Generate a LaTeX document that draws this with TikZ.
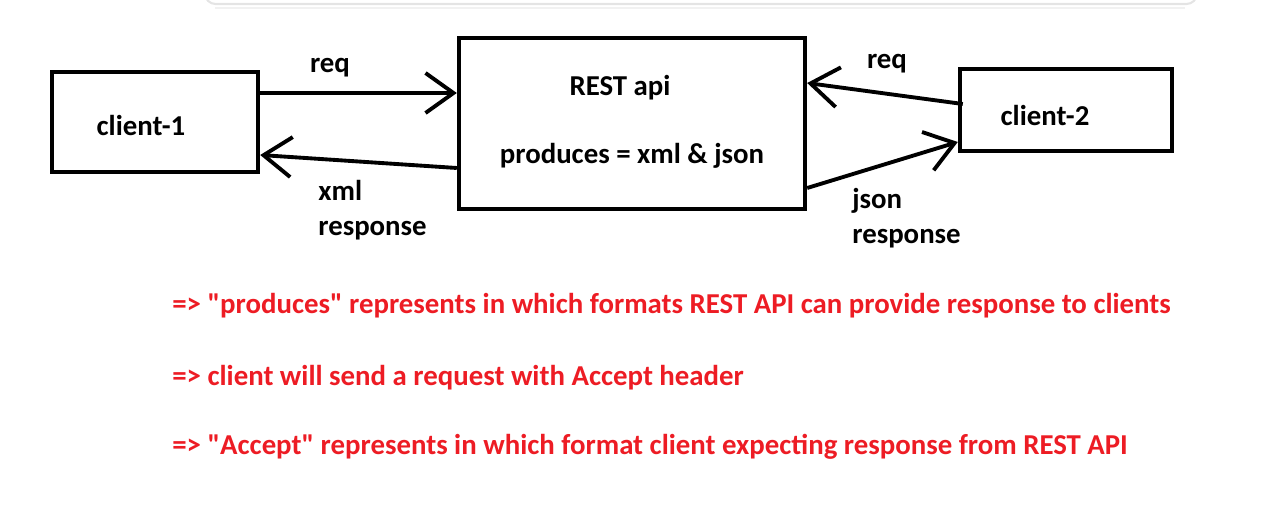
\documentclass[tikz,border=0pt]{standalone}
\usepackage{fontspec}
\setmainfont{Carlito}[Ligatures=TeXOff]
\usepackage{tikz}
\usetikzlibrary{positioning,arrows.meta,calc}
\definecolor{notered}{RGB}{237,28,36}
\definecolor{cardline}{RGB}{228,228,228}
\tikzset{
  box/.style={draw,line width=2.5pt,inner sep=0pt},
  lbl/.style={font=\bfseries\fontsize{16.4}{20}\selectfont,inner sep=0pt,align=left},
  note/.style={lbl,text=notered,anchor=west},
  ar/.style={-{Straight Barb[length=5.6mm,width=8mm,line width=2.2pt]},line width=2.2pt},
}

\begin{document}
\begin{tikzpicture}
  \useasboundingbox (0,0) rectangle (25.6,-10.34);
  % card edge of the screenshot
  \begin{scope}
    \clip (0,0) rectangle (25.6,-10.34);
    \draw[cardline,line width=1.2pt,rounded corners=6pt] (4.1,0.5) -- (4.1,-0.08) -- (23.94,-0.08) -- (23.94,0.5);
    \draw[cardline!50,line width=1.5pt] (4.3,-0.16) -- (23.7,-0.16);
  \end{scope}
  % boxes
  \node[box,minimum width=4.12cm,minimum height=2cm] (c1) at (3.1,-2.44) {};
  \node[box,minimum width=6.92cm,minimum height=3.42cm] (rest) at (12.64,-2.47) {};
  \node[box,minimum width=4.24cm,minimum height=1.64cm] (c2) at (21.32,-2.2) {};
  \node[lbl] (c1t) at ($(c1.center)+(-0.28,-0.06)$) {client-1};
  \node[lbl] (c2t) at ($(c2.center)+(-0.42,-0.1)$) {client-2};
  \node[lbl] (rt) at ($(rest.center)+(-0.24,0.71)$) {REST api};
  \node[lbl] (pt) at ($(rest.center)+(0,-0.65)$) {produces = xml \& json};
  % connectors
  \draw[ar] ([yshift=0.58cm]c1.east) -- ([yshift=0.61cm]rest.west);
  \draw[ar] ([yshift=-0.89cm]rest.west) -- ([yshift=-0.66cm]c1.east);
  \draw[ar] ([xshift=0.1cm,yshift=0.12cm]c2.west) -- ([yshift=0.81cm]rest.east);
  \draw[ar] ([yshift=-1.29cm]rest.east) -- ([yshift=-0.64cm]c2.west);
  \node[lbl] (rq1) at (6.6,-1.36) {req};
  \node[lbl,anchor=west] (xr) at (6.36,-4.21) {xml\\response};
  \node[lbl] (rq2) at (17.74,-1.28) {req};
  \node[lbl,anchor=west] (jr) at (17.04,-4.37) {json\\response};
  % notes
  \node[note] (n1) at (3.44,-6.12) {=> "produces" represents in which formats REST API can provide response to clients};
  \node[note] (n2) at (3.44,-7.56) {=> client will send a request with Accept header};
  \node[note] (n3) at (3.44,-8.94) {=> "Accept" represents in which format client expecting response from REST API};
\end{tikzpicture}
\end{document}
